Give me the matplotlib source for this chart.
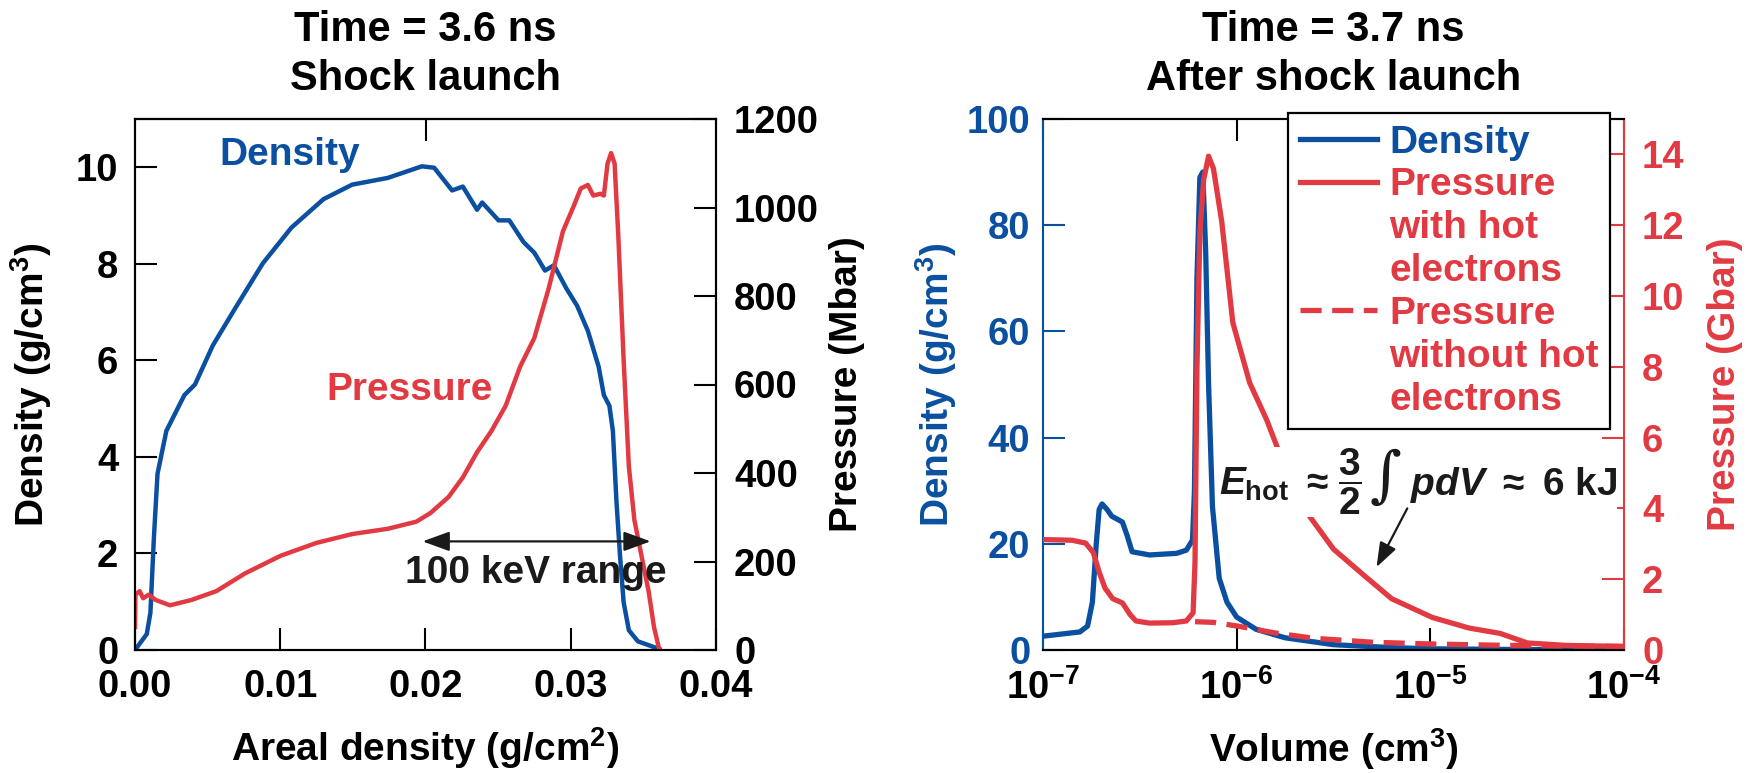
import numpy as np
import matplotlib
matplotlib.use('Agg')
import matplotlib.pyplot as plt
from matplotlib.lines import Line2D
from matplotlib.ticker import FormatStrFormatter, NullLocator, MultipleLocator
from matplotlib.offsetbox import TextArea, HPacker, AnnotationBbox

plt.rcParams['font.family'] = ['Liberation Sans', 'DejaVu Sans']
plt.rcParams['font.weight'] = 'bold'
plt.rcParams['axes.labelweight'] = 'bold'
plt.rcParams['axes.titleweight'] = 'bold'
plt.rcParams['mathtext.fontset'] = 'custom'
plt.rcParams['mathtext.rm'] = 'Liberation Sans:bold'
plt.rcParams['mathtext.it'] = 'Liberation Sans:italic:bold'
plt.rcParams['mathtext.bf'] = 'Liberation Sans:bold'
plt.rcParams['mathtext.default'] = 'regular'

BLUE = '#0B4FA0'
RED = '#E23A42'
DARK = '#1a1a1a'

# ---- left panel: t = 3.6 ns, vs areal density (g/cm^2)
rhoR_dens = [0.0, 0.00081, 0.00106, 0.0013, 0.00155, 0.00216, 0.0034, 0.00413, 0.00536, 0.00684,
             0.0088, 0.01077, 0.01298, 0.01495, 0.01741, 0.01975, 0.0206, 0.02183, 0.02257, 0.02355,
             0.0239, 0.02503, 0.02577, 0.02675, 0.02749, 0.02823, 0.02884, 0.0297, 0.03044, 0.03118,
             0.03192, 0.03228, 0.03266, 0.0329, 0.03315, 0.03339, 0.03364, 0.034, 0.03462, 0.0361]
dens_36 = [0.0, 0.33, 0.77, 2.32, 3.65, 4.54, 5.28, 5.50, 6.31, 7.05,
           8.01, 8.75, 9.34, 9.64, 9.78, 10.02, 9.99, 9.52, 9.60, 9.12,
           9.27, 8.90, 8.90, 8.45, 8.23, 7.86, 7.97, 7.49, 7.13, 6.61,
           5.87, 5.28, 5.06, 4.54, 3.06, 1.96, 0.99, 0.41, 0.18, 0.02]

rhoR_pres = [0.0, 0.00003, 0.00032, 0.00056, 0.00094, 0.00143, 0.00241, 0.00388, 0.0056, 0.00757,
             0.01003, 0.01249, 0.01495, 0.01741, 0.01937, 0.02036, 0.02159, 0.02257, 0.02355, 0.02454,
             0.02552, 0.02651, 0.02749, 0.02848, 0.02946, 0.0302, 0.03069, 0.03118, 0.03155, 0.03204,
             0.03228, 0.03253, 0.03278, 0.03302, 0.03327, 0.03364, 0.034, 0.03438, 0.03487, 0.03536,
             0.03573, 0.0361]
pres_36 = [52, 125, 133, 117, 125, 113, 101, 113, 133, 173,
           213, 242, 262, 274, 290, 310, 346, 390, 447, 495,
           552, 640, 705, 817, 946, 1003, 1043, 1051, 1027, 1031,
           1027, 1099, 1123, 1099, 939, 656, 415, 294, 213, 133,
           52, 0]

# ---- right panel: t = 3.7 ns, vs volume (cm^3), given as log10 of volume
logV_dens = [-7.0, -6.81, -6.77, -6.745, -6.725, -6.71, -6.695, -6.67, -6.645, -6.59,
             -6.565, -6.54, -6.45, -6.31, -6.26, -6.228, -6.218, -6.205, -6.19, -6.175,
             -6.16, -6.145, -6.125, -6.09, -6.05, -6.0, -5.9, -5.75, -5.5, -5.2,
             -5.0, -4.5, -4.0]
dens_37 = [2.6, 3.4, 4.5, 9.0, 20.0, 26.5, 27.5, 26.5, 25.2, 24.1,
           21.5, 18.5, 17.9, 18.2, 18.8, 20.7, 30.0, 70.0, 89.0, 90.0,
           75.0, 50.0, 27.0, 13.5, 9.0, 6.2, 3.9, 2.3, 1.0, 0.45,
           0.22, 0.08, 0.05]

logV_hot = [-7.0, -6.85, -6.78, -6.74, -6.71, -6.68, -6.64, -6.59, -6.55, -6.52,
            -6.45, -6.33, -6.26, -6.225, -6.215, -6.205, -6.19, -6.17, -6.145, -6.12,
            -6.077, -6.02, -5.933, -5.845, -5.78, -5.70, -5.62, -5.50, -5.33, -5.20,
            -4.99, -4.80, -4.64, -4.50, -4.30, -4.0]
pres_hot = [3.12, 3.10, 3.02, 2.75, 2.2, 1.75, 1.45, 1.33, 1.0, 0.82,
            0.76, 0.77, 0.82, 1.05, 2.5, 8.0, 11.8, 13.3, 13.95, 13.6,
            12.1, 9.25, 7.55, 6.5, 5.58, 4.45, 3.75, 2.85, 2.05, 1.45,
            0.92, 0.62, 0.47, 0.2, 0.13, 0.1]

logV_cold = [-6.215, -6.12, -6.0, -5.8, -5.6, -5.3, -5.0, -4.6, -4.0]
pres_cold = [0.8, 0.78, 0.68, 0.48, 0.33, 0.22, 0.17, 0.13, 0.1]

TICK = 27.5
LAB = 28
LW_L = 3.2
LW_R = 3.8

fig = plt.figure(figsize=(17.54, 7.73), dpi=100)
axL = fig.add_axes([135 / 1754, 123 / 773, 581 / 1754, 531 / 773])
axR = fig.add_axes([1043 / 1754, 123 / 773, 581 / 1754, 531 / 773])
axLp = axL.twinx()
axRp = axR.twinx()

for a in (axL, axLp, axR, axRp):
    for s in a.spines.values():
        s.set_linewidth(1.5)

# left panel
axL.plot(rhoR_dens, dens_36, color=BLUE, lw=LW_L, solid_joinstyle='round')
axLp.plot(rhoR_pres, pres_36, color=RED, lw=LW_L, solid_joinstyle='round')
axL.set_xlim(0, 0.04)
axL.set_ylim(0, 11)
axLp.set_ylim(0, 1200)
axL.xaxis.set_major_locator(MultipleLocator(0.01))
axL.xaxis.set_major_formatter(FormatStrFormatter('%.2f'))
axL.yaxis.set_major_locator(MultipleLocator(2))
axLp.yaxis.set_major_locator(MultipleLocator(200))
axL.tick_params(direction='in', length=16, width=1.5, labelsize=TICK, pad=12)
axL.tick_params(axis='x', pad=14)
axLp.tick_params(direction='in', length=16, width=1.5, labelsize=TICK, pad=13)
secL = axL.secondary_xaxis('top')
secL.set_xticks([0.02])
secL.tick_params(direction='in', length=16, width=1.5, labeltop=False)
secL.spines['top'].set_linewidth(1.5)

axL.set_xlabel('Areal density (g/cm$^{2}$)', fontsize=LAB, labelpad=14)
axL.set_ylabel('Density (g/cm$^{3}$)', fontsize=LAB)
axL.yaxis.set_label_coords(-0.14, 0.5)
axLp.set_ylabel('Pressure (Mbar)', fontsize=LAB)
axLp.yaxis.set_label_coords(1.195, 0.5)
axL.set_title('Time = 3.6 ns\nShock launch', fontsize=30, pad=21, linespacing=1.3)

axLp.text(0.01067, 10.26 * 1200 / 11, 'Density', color=BLUE, fontsize=LAB, ha='center', va='center')
axLp.text(0.01893, 5.38 * 1200 / 11, 'Pressure', color=RED, fontsize=LAB, ha='center', va='center')
axLp.annotate('', xy=(0.0355, 2.25 * 1200 / 11), xytext=(0.0198, 2.25 * 1200 / 11),
              arrowprops=dict(arrowstyle='<|-|>,head_length=0.55,head_width=0.2', color=DARK,
                              lw=1.6, mutation_scale=30, shrinkA=0, shrinkB=0))
axLp.text(0.0276, 1.59 * 1200 / 11, '100 keV range', color=DARK, fontsize=LAB, ha='center', va='center')

# right panel
V_dens = np.power(10.0, logV_dens)
V_hot = np.power(10.0, logV_hot)
V_cold = np.power(10.0, logV_cold)
l_dens, = axR.plot(V_dens, dens_37, color=BLUE, lw=LW_R, solid_joinstyle='round')
l_cold, = axRp.plot(V_cold, pres_cold, color=RED, lw=LW_R, dashes=(4.0, 2.0))
l_hot, = axRp.plot(V_hot, pres_hot, color=RED, lw=LW_R, solid_joinstyle='round')
axR.set_xscale('log')
axR.set_xlim(1e-7, 1e-4)
axR.set_xticks([1e-7, 1e-6, 1e-5, 1e-4])
axR.xaxis.set_minor_locator(NullLocator())
axR.set_ylim(0, 100)
axRp.set_ylim(0, 15)
axR.yaxis.set_major_locator(MultipleLocator(20))
axRp.yaxis.set_major_locator(MultipleLocator(2))
axR.tick_params(direction='in', length=16, width=1.5, labelsize=TICK, top=True)
axR.tick_params(axis='x', pad=14)
axR.tick_params(axis='y', colors=BLUE, pad=9)
axRp.tick_params(direction='in', length=16, width=1.5, labelsize=TICK, colors=RED, pad=13)
axR.spines['left'].set_color(BLUE)
axR.spines['right'].set_visible(False)
axRp.spines['left'].set_visible(False)
axRp.spines['right'].set_color(RED)

axR.set_xlabel('Volume (cm$^{3}$)', fontsize=LAB, labelpad=14)
axR.set_ylabel('Density (g/cm$^{3}$)', fontsize=LAB, color=BLUE)
axR.yaxis.set_label_coords(-0.145, 0.5)
axRp.set_ylabel('Pressure (Gbar)', fontsize=LAB, color=RED)
axRp.yaxis.set_label_coords(1.143, 0.5)
axR.set_title('Time = 3.7 ns\nAfter shock launch', fontsize=30, pad=21, linespacing=1.3)

# E_hot annotation, built from pieces so the fraction and integral are full size
tp = dict(fontsize=LAB, color=DARK)
parts = [TextArea(r'$\mathit{E}_{\mathrm{hot}}\ \approx$', textprops=tp),
         TextArea(r'$\dfrac{3}{2}$', textprops=tp),
         TextArea('\u222b', textprops=dict(fontsize=44, color=DARK, family='DejaVu Serif',
                                           fontweight='normal', fontstyle='italic')),
         TextArea(r'$\mathit{pdV}\ \approx\ $6 kJ', textprops=tp)]
ehot = HPacker(children=parts, align='baseline', pad=0, sep=6)
ab = AnnotationBbox(ehot, (10 ** -5.062, 4.75), xycoords='data', box_alignment=(0.5, 0.5),
                    frameon=True, pad=0, bboxprops=dict(facecolor='white', edgecolor='none'))
ab.set_zorder(4)
axRp.add_artist(ab)
axRp.annotate('', xy=(10 ** -5.278, 2.34), xytext=(10 ** -5.119, 4.0),
              arrowprops=dict(arrowstyle='-|>,head_length=0.5,head_width=0.18', color=DARK,
                              lw=1.6, mutation_scale=30, shrinkA=0, shrinkB=0), zorder=5)

blank = Line2D([], [], color='none')
handles = [l_dens, l_hot, blank, blank, Line2D([], [], color=RED, lw=LW_R, dashes=(4.0, 2.0)), blank, blank]
labels = ['Density', 'Pressure', 'with hot', 'electrons', 'Pressure', 'without hot', 'electrons']
leg = axRp.legend(handles, labels, loc='upper left', bbox_to_anchor=(1288 / 1754, 660 / 773),
                  bbox_transform=fig.transFigure, borderaxespad=0, fontsize=LAB, frameon=True,
                  fancybox=False, framealpha=1, edgecolor='black', handlelength=2.0,
                  handletextpad=0.3, labelspacing=0.175, borderpad=0.3)
leg.get_frame().set_linewidth(1.6)
leg.set_zorder(10)
for t, c in zip(leg.get_texts(), [BLUE] + [RED] * 6):
    t.set_color(c)

fig.savefig('out.png', dpi=100)
